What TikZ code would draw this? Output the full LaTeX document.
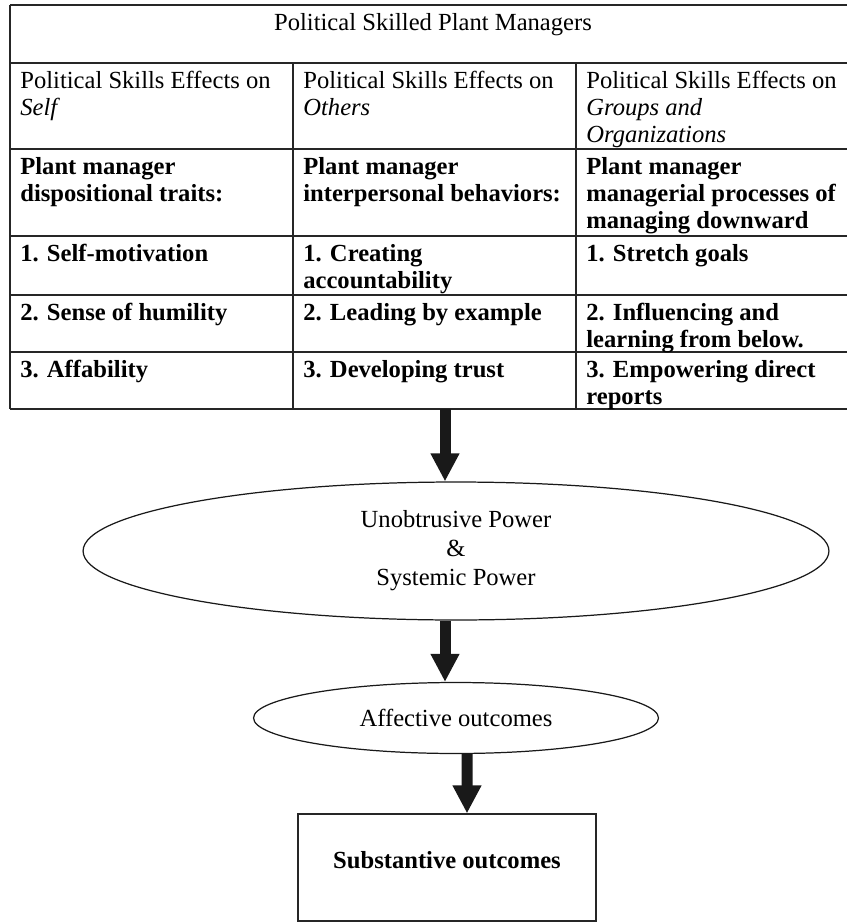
\documentclass[tikz,border=0pt]{standalone}
\usepackage{fontspec}
\setmainfont{Liberation Serif}
\usetikzlibrary{shapes.geometric,arrows.meta}

\begin{document}
\begin{tikzpicture}[x=0.02cm,y=-0.02cm]
\tikzstyle{cell}=[anchor=north west, align=left, inner xsep=0.2cm, inner ysep=0.16cm, font=\fontsize{14}{15.4}\selectfont]
\tikzstyle{bcell}=[cell, font=\fontsize{14}{15.4}\selectfont\bfseries]
\tikzstyle{rule}=[draw=black!85, line width=0.8pt]
\tikzstyle{oval}=[ellipse, draw=black!90, line width=0.7pt, inner sep=0pt, align=center, font=\fontsize{14}{16.5}\selectfont]
\tikzstyle{box}=[rectangle, draw=black!85, line width=0.7pt, font=\fontsize{14}{16}\selectfont\bfseries]
\tikzstyle{connect}=[-{Triangle[width=0.54cm,length=0.56cm]}, line width=0.22cm, black!90]
  \useasboundingbox (0,0) rectangle (847,922);
  % table frame
  \draw[rule] (10,5) -- (847,5) (10,63) -- (847,63) (10,149) -- (847,149)
              (10,236) -- (847,236) (10,295) -- (847,295) (10,352) -- (847,352)
              (10,409) -- (847,409);
  \draw[rule] (10,5) -- (10,409) (293,63) -- (293,409) (576,63) -- (576,409);
  \node[cell, anchor=north] (title) at (433,5) {Political Skilled Plant Managers};
  \node[cell] (self) at (10,63) {Political Skills Effects on\\\textit{Self}};
  \node[cell] (others) at (293,63) {Political Skills Effects on\\\textit{Others}};
  \node[cell] (groups) at (576,63) {Political Skills Effects on\\\textit{Groups and}\\\textit{Organizations}};
  \node[bcell] (traits) at (10,149) {Plant manager\\dispositional traits:};
  \node[bcell] (behav) at (293,149) {Plant manager\\interpersonal behaviors:};
  \node[bcell] (procs) at (576,149) {Plant manager\\managerial processes of\\managing downward};
  \node[bcell] (selfa) at (10,236) {1. Self-motivation};
  \node[bcell] (othersa) at (293,236) {1. Creating\\accountability};
  \node[bcell] (groupsa) at (576,236) {1. Stretch goals};
  \node[bcell] (selfb) at (10,295) {2. Sense of humility};
  \node[bcell] (othersb) at (293,295) {2. Leading by example};
  \node[bcell] (groupsb) at (576,295) {2. Influencing and\\learning from below.};
  \node[bcell] (selfc) at (10,352) {3. Affability};
  \node[bcell] (othersc) at (293,352) {3. Developing trust};
  \node[bcell] (groupsc) at (576,352) {3. Empowering direct\\reports};
  \coordinate (tabbot) at (445,409);
  % outcomes
  \node[oval, minimum width=14.92cm, minimum height=2.76cm] (power) at (456,551) {Unobtrusive Power\\\&\\Systemic Power};
  \node[oval, minimum width=8.1cm, minimum height=1.42cm] (affect) at (456,718) {Affective outcomes};
  \node[box, minimum width=5.96cm, minimum height=2.14cm, text depth=0.3cm] (result) at (447,867.5) {Substantive outcomes};
  \path (tabbot) edge [connect] (tabbot |- power.north)
        (tabbot |- power.south) edge [connect] (tabbot |- affect.north)
        ([xshift=0.22cm]affect.south) edge [connect] ([xshift=0.4cm]result.north);
\end{tikzpicture}
\end{document}
